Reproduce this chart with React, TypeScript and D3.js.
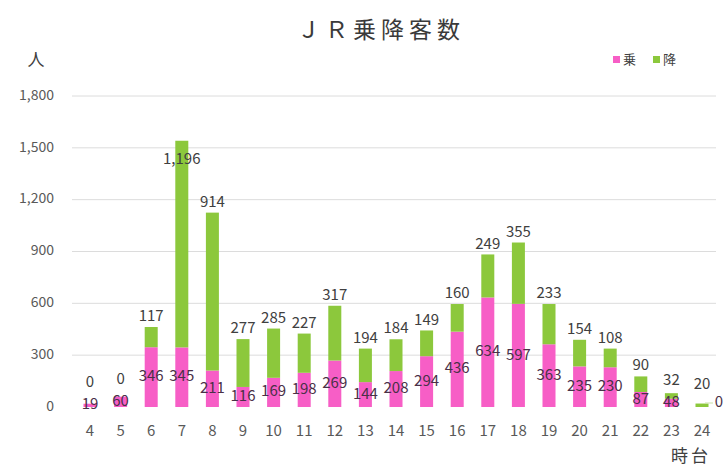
import React from "react";
import * as d3 from "d3";

// JR 乗降客数 by hour
const hours = ["4", "5", "6", "7", "8", "9", "10", "11", "12", "13", "14", "15", "16", "17", "18", "19", "20", "21", "22", "23", "24"];
const boarding = [19, 60, 346, 345, 211, 116, 169, 198, 269, 144, 208, 294, 436, 634, 597, 363, 235, 230, 87, 48, 0];
const alighting = [0, 0, 117, 1196, 914, 277, 285, 227, 317, 194, 184, 149, 160, 249, 355, 233, 154, 108, 90, 32, 20];
const yTicks = [0, 300, 600, 900, 1200, 1500, 1800];

const seriesNames = ["乗", "降"];
const colors = ["#f75ec6", "#8cc83c"];

const W = 726;
const H = 468;
const FONT = "'Noto Sans CJK JP', 'Noto Sans', sans-serif";

export default function App() {
    const x = d3.scaleBand<string>()
        .domain(hours)
        .range([74.7, 717.3])
        .paddingInner(0.575)
        .paddingOuter(0.2875);

    const y = d3.scaleLinear()
        .domain([0, 1800])
        .range([407, 96]);

    const rows = hours.map((h, i) => ({ hour: h, b: boarding[i], a: alighting[i] }));
    const stack = d3.stack<{ hour: string; b: number; a: number }>().keys(["b", "a"]);
    const layers = stack(rows);

    const fmt = d3.format(",");
    const bw = x.bandwidth();

    // centre of each boarding segment, used for its label and to keep the alighting label clear of it
    const boardMid = layers[0].map(d => (y(d[0]) + y(d[1])) / 2);

    return (
        <svg width={W} height={H} style={{ position: "absolute", left: 0, top: 0, background: "#fff" }} fontFamily={FONT}>
            {/* title */}
            <text x={381} y={38} textAnchor="middle" fontSize={23} letterSpacing={5} fill="#3a3a3a">ＪＲ乗降客数</text>

            {/* axis unit labels */}
            <text x={36} y={66} textAnchor="middle" fontSize={17} fill="#404040">人</text>
            <text x={691} y={462} textAnchor="middle" fontSize={17} letterSpacing={3} fill="#404040">時台</text>

            {/* legend */}
            <g fontSize={13} fill="#404040">
                {seriesNames.map((n, i) => (
                    <g key={n} transform={`translate(${613 + i * 40},60)`}>
                        <rect x={0} y={-4} width={7} height={7} fill={colors[i]} />
                        <text x={10} y={0} dominantBaseline="middle">{n}</text>
                    </g>
                ))}
            </g>

            {/* grid + y tick labels */}
            {yTicks.map(t => (
                <g key={t}>
                    {t > 0 && <line x1={72} x2={716} y1={y(t)} y2={y(t)} stroke="#dcdcdc" strokeWidth={1} />}
                    <text x={54} y={y(t)} textAnchor="end" dominantBaseline="middle" fontSize={14} fill="#595959">{fmt(t)}</text>
                </g>
            ))}

            {/* bars */}
            {layers.map((layer, li) => (
                <g key={layer.key} fill={colors[li]}>
                    {layer.map((d, i) => (
                        <rect key={i}
                            x={x(hours[i])!}
                            y={y(d[1])}
                            width={bw}
                            height={Math.max(0, y(d[0]) - y(d[1]))} />
                    ))}
                </g>
            ))}

            {/* category labels */}
            {hours.map(h => (
                <text key={h} x={x(h)! + bw / 2} y={432} textAnchor="middle" dominantBaseline="middle" fontSize={15} fill="#595959">{h}</text>
            ))}

            {/* boarding labels: segment centre */}
            {layers[0].map((d, i) => {
                const cx = x(hours[i])! + bw / 2;
                const last = i === hours.length - 1 && boarding[i] === 0;
                return (
                    <g key={"b" + i}>
                        {last && <line x1={cx + 3} x2={cx + 11} y1={y(0) - 4} y2={y(0) - 4} stroke="#c8e0a8" strokeWidth={1} />}
                        <text x={last ? cx + 17 : cx} y={last ? y(0) - 4 : boardMid[i]}
                            textAnchor="middle" dominantBaseline="middle" fontSize={15} fill="#4a3048">{fmt(boarding[i])}</text>
                    </g>
                );
            })}

            {/* alighting labels: above bar end */}
            {layers[1].map((d, i) => {
                const cx = x(hours[i])! + bw / 2;
                const ly = Math.max(Math.min(y(d[1]) - 10, boardMid[i] - 22), y(1430));
                return (
                    <text key={"a" + i} x={cx} y={ly} textAnchor="middle" dominantBaseline="middle" fontSize={15} fill="#404040">{fmt(alighting[i])}</text>
                );
            })}
        </svg>
    );
}
